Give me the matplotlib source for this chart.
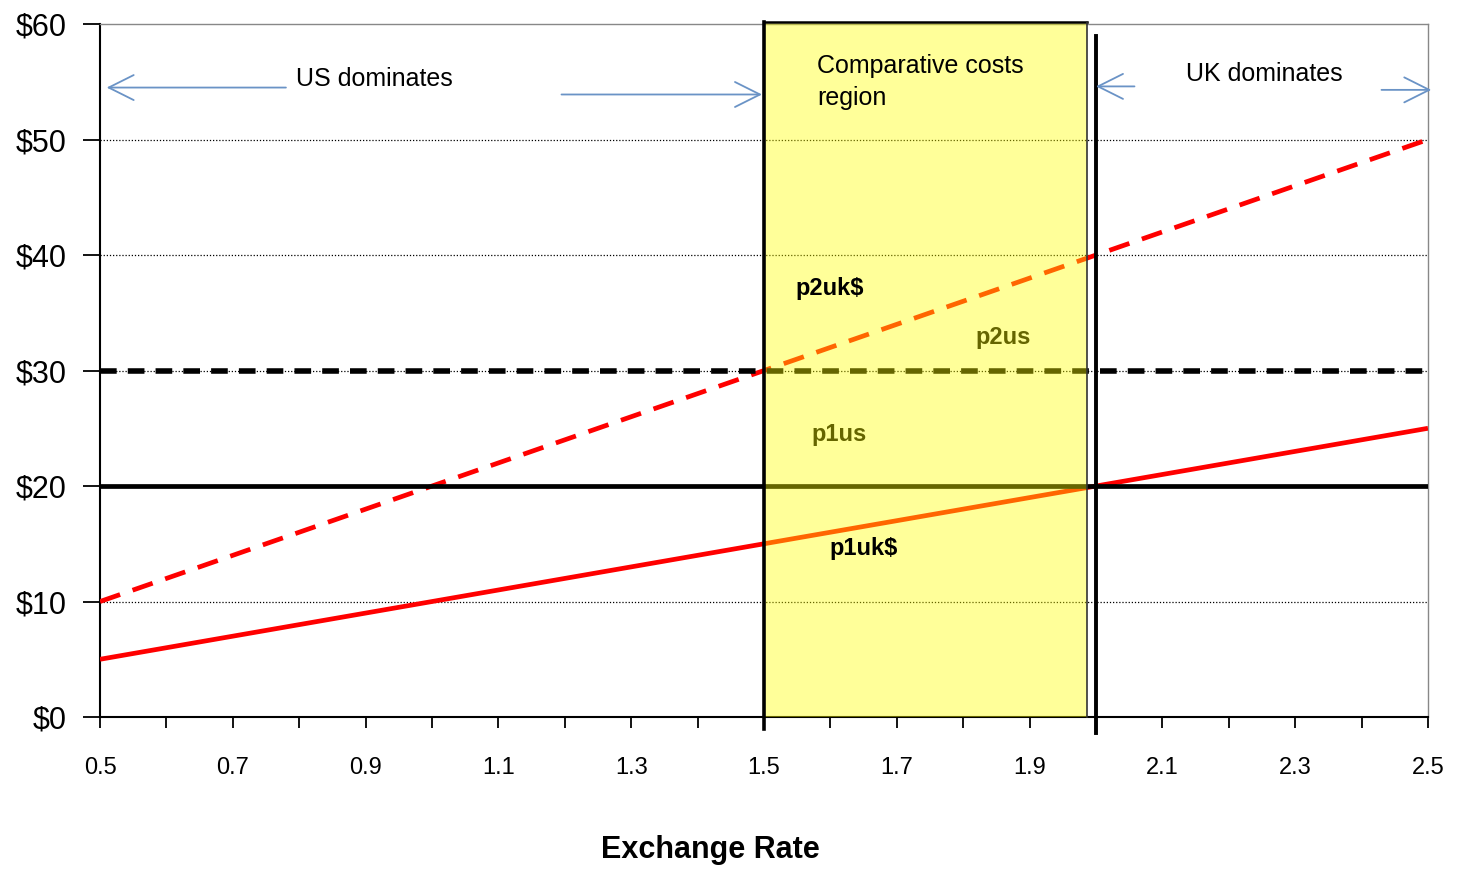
import matplotlib
matplotlib.use("Agg")
import matplotlib.pyplot as plt
from matplotlib.patches import Rectangle

# ---- data ----
exchange_rate = [0.5, 1.0, 1.5, 2.0, 2.5]
p1uk_usd = [5, 10, 15, 20, 25]
p2uk_usd = [10, 20, 30, 40, 50]
p1us = [20, 20, 20, 20, 20]
p2us = [30, 30, 30, 30, 30]
region_start, region_end = 1.5, 1.986
uk_boundary = 2.0
y_ticks = [0, 10, 20, 30, 40, 50, 60]
y_labels = ["$0", "$10", "$20", "$30", "$40", "$50", "$60"]
x_ticks = [0.5, 0.6, 0.7, 0.8, 0.9, 1.0, 1.1, 1.2, 1.3, 1.4, 1.5, 1.6, 1.7, 1.8, 1.9, 2.0,
           2.1, 2.2, 2.3, 2.4, 2.5]

plt.rcParams['font.family'] = ["Liberation Sans", "DejaVu Sans"]

fig = plt.figure(figsize=(14.58, 8.74), dpi=100)
ax = fig.add_axes([0.0686, 0.1796, 0.9794 - 0.0686, 0.9725 - 0.1796])
ax.set_xlim(0.5, 2.5)
ax.set_ylim(0, 60)

# gridlines
for g in [10, 20, 30, 40, 50]:
    ax.axhline(g, color="black", lw=0.9, ls=(0, (1, 1.5)), zorder=1)

red = "#ff0000"
ax.plot(exchange_rate, p1uk_usd, color=red, lw=3.4, zorder=3, solid_capstyle="butt")
ax.plot(exchange_rate, p2uk_usd, color=red, lw=3.4, ls=(0, (4.5, 2.8)), zorder=3)
ax.plot(exchange_rate, p1us, color="black", lw=3.4, zorder=3)
ax.plot(exchange_rate, p2us, color="black", lw=4.0, ls=(0, (3.0, 2.0)), zorder=3)

# labels under the yellow region (tinted)
ax.text(1.818, 32.9, "p2us", fontsize=17, fontweight="bold", color="black", ha="left", va="center", zorder=3)
ax.text(1.572, 24.5, "p1us", fontsize=17, fontweight="bold", color="black", ha="left", va="center", zorder=3)

# yellow region
ax.add_patch(Rectangle((region_start, 0), region_end - region_start, 60.2,
                       facecolor="#ffff00", alpha=0.4, edgecolor="none", zorder=4, clip_on=False))
ax.plot([region_start, region_start], [-1.0, 60.2], color="black", lw=2.6, zorder=5, clip_on=False)
ax.plot([region_start, region_end], [60.2, 60.2], color="black", lw=1.8, zorder=5, clip_on=False)
ax.plot([region_end, region_end], [0, 60.2], color="#333333", lw=1.2, zorder=5, clip_on=False)
ax.plot([uk_boundary, uk_boundary], [-1.4, 59.0], color="black", lw=2.8, zorder=5, clip_on=False)

# labels above
ax.text(1.547, 37.1, "p2uk$", fontsize=17, fontweight="bold", color="black", ha="left", va="center", zorder=6)
ax.text(1.599, 14.6, "p1uk$", fontsize=17, fontweight="bold", color="black", ha="left", va="center", zorder=6)

ax.text(1.58, 55.0, "Comparative costs\nregion", fontsize=18, ha="left", va="center",
        linespacing=1.45, zorder=6)

arrow_c = "#6a93c6"
ap = dict(arrowstyle="->,head_length=0.9,head_width=0.45", color=arrow_c, lw=1.3,
          mutation_scale=20, shrinkA=0, shrinkB=0)
ax.annotate("", xy=(0.51, 54.5), xytext=(0.78, 54.5), arrowprops=ap, zorder=6)
ax.text(0.795, 55.2, "US dominates", fontsize=18, ha="left", va="center", zorder=6)
ax.annotate("", xy=(1.497, 53.9), xytext=(1.195, 53.9), arrowprops=ap, zorder=6)
ax.annotate("", xy=(2.0, 54.6), xytext=(2.058, 54.6), arrowprops=ap, zorder=6)
ax.text(2.136, 55.7, "UK dominates", fontsize=18, ha="left", va="center", zorder=6)
ax.annotate("", xy=(2.505, 54.3), xytext=(2.43, 54.3), arrowprops=ap, zorder=6, annotation_clip=False)

# axes styling
ax.set_yticks(y_ticks)
ax.set_yticklabels(y_labels, fontsize=22)
ax.set_xticks(x_ticks)
ax.set_xticklabels([f"{v:.1f}" if i % 2 == 0 else "" for i, v in enumerate(x_ticks)], fontsize=17)
ax.tick_params(axis="x", direction="out", length=8, width=1.3, color="black", pad=21)
ax.tick_params(axis="y", direction="out", length=12, width=1.3, color="black", pad=12)
for s in ["left", "bottom"]:
    ax.spines[s].set_color("black")
    ax.spines[s].set_linewidth(1.5)
for s in ["top", "right"]:
    ax.spines[s].set_color("#888888")
    ax.spines[s].set_linewidth(1.0)
ax.set_xlabel("Exchange Rate", fontsize=22, fontweight="bold")
ax.xaxis.label.set_va("center")
ax.xaxis.set_label_coords(0.46, -(850 - 717) / 693)

fig.savefig("out.png", dpi=100)
